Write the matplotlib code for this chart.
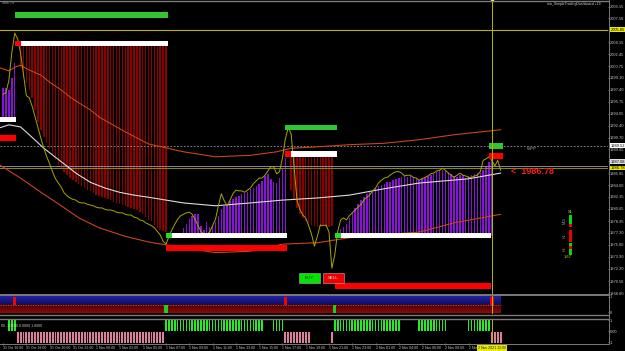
import matplotlib
matplotlib.use('Agg')
import matplotlib.pyplot as plt
import matplotlib.transforms as mtransforms
from matplotlib.patches import Rectangle
from matplotlib.lines import Line2D
from matplotlib.colors import LinearSegmentedColormap
import numpy as np

plt.rcParams['font.family'] = ['Liberation Sans', 'DejaVu Sans']

W, H = 625, 351

# ---------------- data ----------------
# close per 15 min bar (olive line), bar 0 = 31 Oct 16:00
close = [1996.8, 1997.0, 1998.8, 2002.7, 2005.4, 2004.6, 2002.6, 1999.6, 1996.6, 1996.3,
         1995.1, 1993.6, 1992.1, 1990.6, 1989.2, 1988.0, 1987.0, 1985.9, 1984.9, 1984.3,
         1983.7, 1982.9, 1982.5, 1982.2, 1982.0, 1981.9, 1981.6, 1981.5, 1981.5, 1981.3,
         1981.2, 1981.1, 1980.9, 1980.8, 1980.8, 1980.6, 1980.5, 1980.5, 1980.4, 1980.2,
         1980.1, 1980.1, 1979.9, 1979.8, 1979.8, 1979.5, 1979.4, 1979.1, 1979.0, 1978.7,
         1978.5, 1978.3, 1978.0, 1977.5, 1977.0, 1976.1, 1975.7, 1976.8, 1977.7, 1978.5,
         1979.2, 1979.7, 1979.9, 1980.1, 1980.2, 1979.9, 1979.2, 1978.3, 1977.5, 1977.1,
         1977.1, 1977.4, 1978.3, 1979.2, 1981.1, 1982.8, 1981.8, 1981.1, 1981.9, 1982.8,
         1983.3, 1983.2, 1983.2, 1983.0, 1983.3, 1983.6, 1984.2, 1984.6, 1985.0, 1985.0,
         1985.4, 1986.0, 1986.6, 1986.6, 1985.6, 1985.9, 1987.8, 1990.5, 1992.1, 1991.2,
         1986.7, 1981.9, 1980.6, 1979.8, 1979.4, 1978.3, 1977.1, 1975.4, 1976.8, 1978.4,
         1978.3, 1978.4, 1977.4, 1972.3, 1974.2, 1977.5, 1979.1, 1979.4, 1979.1, 1979.7,
         1980.1, 1980.5, 1980.9, 1981.3, 1981.9, 1982.3, 1982.6, 1983.2, 1983.6, 1984.3,
         1984.7, 1985.0, 1985.1, 1985.4, 1985.7, 1985.9, 1985.9, 1985.7, 1985.3, 1985.4,
         1985.4, 1985.1, 1985.0, 1984.7, 1984.9, 1985.1, 1985.3, 1985.6, 1985.7, 1986.0,
         1986.1, 1986.4, 1986.1, 1985.7, 1985.4, 1985.1, 1985.4, 1985.7, 1985.4, 1985.3,
         1985.1, 1985.1, 1985.3, 1985.4, 1985.9, 1987.5, 1987.7, 1988.0, 1987.5, 1986.7,
         1987.5, 1986.1]

# trading zones: level (white bar), stop/target box, side
zone_start = [-3, 4, 56, 97, 114]
zone_end = [4, 56, 97, 114, 167]
zone_level = [1993.2, 2003.9, 1976.9, 1988.4, 1976.9]
zone_box = [1990.6, 2008.0, 1975.2, 1992.1, 1969.8]
zone_side = ['buy', 'sell', 'buy', 'sell', 'buy']

# histogram tips inside each zone
hist_first = [0, 6, 62, 99, 115]
hist_z0 = [1997.7, 1997.7, 1997.4, 1999.1, 2001.2]
hist_z1 = [2000.5, 1999.4, 1998.4, 1997.4, 1996.3, 1994.6, 1992.9, 1991.8, 1990.8, 1989.9,
           1989.1, 1988.2, 1987.5, 1986.8, 1986.3, 1985.9, 1985.4, 1985.0, 1984.7, 1984.4,
           1984.2, 1983.9, 1983.6, 1983.3, 1983.2, 1982.9, 1982.6, 1982.5, 1982.3, 1982.2,
           1982.0, 1981.9, 1981.6, 1981.5, 1981.3, 1981.2, 1981.1, 1980.9, 1980.8, 1980.6,
           1980.5, 1980.2, 1979.9, 1979.5, 1979.1, 1979.0, 1978.4, 1978.0, 1977.7, 1977.5,
           1977.4]
hist_z2 = [1978.0, 1978.5, 1979.2, 1979.7, 1979.9, 1979.9, 1978.3, 1977.7, 1978.8, 1978.1,
           1978.4, 1978.8, 1979.7, 1980.6, 1981.1, 1981.3, 1981.8, 1982.0, 1982.3, 1982.5,
           1982.8, 1982.9, 1983.0, 1983.5, 1983.6, 1983.9, 1984.2, 1984.6, 1985.3, 1985.6,
           1984.9, 1984.4, 1984.3, 1985.0, 1986.4, 1987.8]
hist_z3 = [1983.3, 1981.9, 1980.8, 1979.9, 1979.4, 1979.0, 1978.7, 1978.4, 1978.3, 1978.1,
           1978.1, 1978.3, 1978.1, 1978.1, 1978.3]
hist_z4 = [1977.4, 1977.8, 1978.1, 1978.5, 1979.4, 1980.1, 1980.8, 1981.3, 1981.9, 1982.3,
           1982.8, 1983.0, 1983.3, 1983.6, 1983.9, 1984.0, 1984.2, 1984.4, 1984.4, 1984.7,
           1984.9, 1985.0, 1985.1, 1985.3, 1985.1, 1985.3, 1985.1, 1985.0, 1984.7, 1985.0,
           1985.1, 1985.3, 1985.4, 1985.6, 1985.9, 1986.1, 1986.1, 1986.0, 1985.9, 1985.6,
           1985.3, 1985.1, 1985.4, 1985.4, 1985.0, 1985.3, 1985.4, 1985.6, 1985.7, 1985.7,
           1986.1, 1986.7, 1987.3, 1987.5]
hist_tips = [hist_z0, hist_z1, hist_z2, hist_z3, hist_z4]

# moving average and envelope
ma_idx = [-1, 2, 6, 9, 14, 20, 25, 30, 35, 40, 45, 50, 62, 73, 85, 96, 108, 119, 131, 143, 160, 171]
ma_val = [1992.1, 1992.5, 1992.2, 1991.1, 1989.2, 1987.3, 1985.7, 1984.4, 1983.6, 1983.0, 1982.6,
          1982.3, 1981.5, 1981.1, 1981.5, 1981.9, 1982.2, 1982.6, 1983.5, 1984.3, 1984.9, 1985.7]
ub_idx = [-1, 2, 4, 6, 9, 13, 16, 20, 23, 26, 30, 33, 42, 50, 62, 73, 85, 94, 99, 108, 119, 131, 143, 155, 171]
ub_val = [2000.5, 2000.1, 2000.6, 2000.9, 2000.2, 1999.5, 1998.5, 1997.4, 1996.4, 1995.6, 1994.6,
          1993.6, 1991.5, 1989.8, 1988.7, 1988.0, 1988.2, 1988.7, 1989.2, 1989.4, 1989.7, 1989.9,
          1990.4, 1991.1, 1991.8]
lb_idx = [-1, 6, 13, 20, 26, 33, 42, 50, 62, 73, 85, 96, 108, 119, 131, 143, 155, 171]
lb_val = [1986.8, 1985.0, 1983.0, 1981.1, 1979.4, 1978.0, 1976.8, 1976.0, 1975.2, 1974.5, 1974.7,
          1975.7, 1975.9, 1976.6, 1977.0, 1977.4, 1978.7, 1979.9]

# current signal boxes
cur_idx = 167
cur_green = 1989.5
cur_red = 1988.1
current_bar = 168

# horizontal levels
level_top = 2005.85
level_wpp = 1989.5
level_ask = 1986.7
level_bid = 1986.4

# signal arrows panel
sig_idx = [4, 56, 97, 114, 168]
sig_type = ['sell', 'buy', 'sell', 'buy', 'sell']

# green / pink state panel
green_ranges = [(2, 4), (56, 89), (93, 96), (114, 136), (143, 152), (160, 167)]
pink_ranges = [(5, 55), (97, 105), (113, 113), (168, 171)]

# axes text
price_ticks = [1968.80, 1970.50, 1972.20, 1973.90, 1975.60, 1977.30, 1978.95, 1980.65, 1982.35,
               1984.00, 1985.65, 1987.35, 1989.05, 1990.70, 1992.40, 1994.05, 1995.75, 1997.40,
               1999.10, 2000.75, 2002.45, 2004.15, 2005.80, 2007.50, 2009.15]
hl_price = [2005.85, 1989.52, 1987.30, 1986.42]
hl_text = ['2005.85', '1989.52', '1987.08', '1986.78']
hl_color = ['#e8e800', '#ffffff', '#dcdcdc', '#e8e800']
time_idx = list(range(0, 161, 8))
time_labels = ['31 Oct 16:00', '31 Oct 18:00', '31 Oct 20:00', '31 Oct 22:00', '1 Nov 00:00',
               '1 Nov 02:00', '1 Nov 05:00', '1 Nov 07:00', '1 Nov 09:00', '1 Nov 11:00',
               '1 Nov 13:00', '1 Nov 15:00', '1 Nov 17:00', '1 Nov 19:00', '1 Nov 21:00',
               '1 Nov 23:00', '2 Nov 01:00', '2 Nov 04:00', '2 Nov 06:00', '2 Nov 08:00',
               '2 Nov 10:00']

dash_names = ['M15', 'H1', 'H4']
dash_states = [[1, 1, 1, 0], [0, 0, 0, 0], [1, 0, 1, 1]]

# ---------------- figure ----------------
fig = plt.figure(figsize=(W / 100, H / 100), dpi=100, facecolor='black')


def fy(ypx):
    return 1 - ypx / H


XL = (-1.065, 207.9)
ax = fig.add_axes([0, fy(294), 608 / W, 294 / H])
ax2 = fig.add_axes([0, fy(314), 608 / W, 19 / H])
ax3 = fig.add_axes([0, fy(343), 608 / W, 24 / H])
for a in (ax, ax2, ax3):
    a.set_facecolor('black')
    for s in a.spines.values():
        s.set_visible(False)
    a.set_xlim(*XL)
    a.set_xticks([])
    a.yaxis.tick_right()
    a.tick_params(axis='y', length=1, width=0.4, pad=0.5, labelsize=2.9,
                  colors='#c4c4c4')

ax.set_ylim(1968.68, 2010.07)
ax.set_yticks(price_ticks)
ax.set_yticklabels([f'{v:.2f}' for v in price_ticks])

RED_BAR = '#8c0000'
PURPLE = '#8a12d6'
GREEN_BOX = '#33c433'

# histogram bars
for k, tips in enumerate(hist_tips):
    lvl = zone_level[k]
    xs = np.arange(hist_first[k], hist_first[k] + len(tips))
    t = np.array(tips)
    col = RED_BAR if zone_side[k] == 'sell' else PURPLE
    ax.bar(xs, t - lvl, bottom=lvl, width=0.5, color=col, linewidth=0, zorder=2)

# zones
for k in range(len(zone_start)):
    s, e, lvl, bx = zone_start[k], zone_end[k] + 0.6, zone_level[k], zone_box[k]
    ax.add_patch(Rectangle((s, lvl - 0.37), e - s, 0.74, fc='white', ec='none', zorder=6))
    sq = '#ff0000' if zone_side[k] == 'sell' else '#22dd22'
    ax.add_patch(Rectangle((s, lvl - 0.37), 2, 0.74, fc=sq, ec='none', zorder=7))
    bc = GREEN_BOX if zone_side[k] == 'sell' else '#ff0000'
    ax.add_patch(Rectangle((s, bx - 0.4), e - s, 0.8, fc=bc, ec='none', zorder=6))

ax.add_patch(Rectangle((cur_idx, cur_green - 0.45), 4.8, 0.9, fc=GREEN_BOX, ec='none', zorder=6))
ax.add_patch(Rectangle((cur_idx, cur_red - 0.42), 4.8, 0.84, fc='#ff0000', ec='none', zorder=6))

# levels
ax.axhline(level_top, color='#b4b400', lw=0.8, zorder=3)
ax.axhline(level_wpp, color='#9a9a9a', lw=0.6, ls=(0, (2, 2)), zorder=3)
ax.axhline(level_ask, color='#8a8a8a', lw=0.7, zorder=3)
ax.axhline(level_bid, color='#8c8c00', lw=0.7, zorder=3)

# lines
ax.plot(ub_idx, ub_val, color='#c8461a', lw=0.8, zorder=4)
ax.plot(lb_idx, lb_val, color='#c8461a', lw=0.8, zorder=4)
ax.plot(ma_idx, ma_val, color='#dcdcdc', lw=0.8, zorder=5)
ax.plot(range(len(close)), close, color='#a6a600', lw=0.7, zorder=5)

# vertical current bar line
for a in (ax, ax2, ax3):
    a.axvline(current_bar, color='#b8b800', lw=0.7, zorder=8)
ax.plot([current_bar], [2010.07], marker='s', ms=1.8, color='#ffff50', clip_on=False, zorder=9)

# texts in main panel
ax.text(174.5, 1985.9, '<  1986.78', color='#ff1a1a', fontsize=6.5, fontweight='bold',
        va='center', ha='left', zorder=9)
ax.text(180, 1989.1, 'WPP', color='#a8a8a8', fontsize=3.2, va='center', zorder=9)
ax.text(0.003, 0.997, '1986.78', transform=ax.transAxes, fontsize=2.6, color='#a0a0a0', va='top')
ax.text(0.988, 0.994, 'ma_SimpleTradingDashboard +19', transform=ax.transAxes, fontsize=2.5,
        color='#d0d0d0', va='top', ha='right')

# highlighted price labels
trans = mtransforms.blended_transform_factory(ax.transAxes, ax.transData)
for p, t, c in zip(hl_price, hl_text, hl_color):
    ax.text(1.004, p, t, transform=trans, fontsize=2.9, color='black', va='center', ha='left',
            bbox=dict(fc=c, ec='none', pad=0.35), clip_on=False, zorder=10)

# panel 2 : signal band
band_end = 171.1
blue_cm = LinearSegmentedColormap.from_list('b', ['#0d0d62', '#2424a8'])
red_cm = LinearSegmentedColormap.from_list('r', ['#8a0a0a', '#4a0000'])
g = np.linspace(0, 1, 32).reshape(-1, 1)
ax2.imshow(g, extent=(XL[0], band_end, -0.05, 1), aspect='auto', cmap=blue_cm, origin='lower', zorder=1)
ax2.imshow(g, extent=(XL[0], band_end, -0.9, -0.05), aspect='auto', cmap=red_cm, origin='lower', zorder=1)
ax2.plot([XL[0], band_end], [-0.05, -0.05], color='#6a6ab8', lw=0.6, ls=(0, (1.5, 1.5)), zorder=2)
for i, t in zip(sig_idx, sig_type):
    if t == 'sell':
        ax2.bar(i, 0.85, bottom=-0.05, width=1.1, color='#ff0000', linewidth=0, zorder=3)
    else:
        ax2.bar(i, -0.85, bottom=-0.05, width=1.1, color='#22cc22', linewidth=0, zorder=3)
ax2.set_xlim(*XL)
ax2.set_ylim(-1, 1)
ax2.set_yticks([0.8, -0.8])
ax2.set_yticklabels(['1', '0'])

# panel 3 : state bars
ax3.set_ylim(-1, 1)
for a0, b0 in green_ranges:
    xs = np.arange(a0, b0 + 1)
    ax3.bar(xs, 0.9, bottom=0.0, width=0.55, color='#22ee22', linewidth=0)
for a0, b0 in pink_ranges:
    xs = np.arange(a0, b0 + 1)
    ax3.bar(xs, -0.9, bottom=-0.08, width=0.65, color='#e0809f', linewidth=0)
ax3.set_yticks([0.9, -0.04, -0.92])
ax3.set_yticklabels(['1', '0.00', '-1'])
ax3.text(0.002, 0.72, '00 -1.0000 0.0000 1.0000', transform=ax3.transAxes, fontsize=2.5,
         color='#d0d0d0', va='center', zorder=5)
ax3.set_xticks(time_idx)
ax3.set_xticklabels(time_labels)
for lab in ax3.get_xticklabels():
    lab.set_horizontalalignment('left')
ax3.tick_params(axis='x', length=1.2, width=0.4, pad=0.7, labelsize=2.5, colors='#c4c4c4')
ax3.text(current_bar, -1.25, '2 Nov 2021 12:00', transform=ax3.transData, fontsize=2.5,
         color='#202020', ha='center', va='top', clip_on=False,
         bbox=dict(fc='#e8e800', ec='none', pad=0.4), zorder=10)

# separators and frame
for ypx, lw in [(0.5, 1.0), (294.5, 1.4), (314.5, 1.0), (319.0, 1.0), (343.5, 0.7)]:
    fig.add_artist(Line2D([0, 608 / W], [fy(ypx), fy(ypx)], color='#7a7a7a', lw=lw))
fig.add_artist(Line2D([608.5 / W, 608.5 / W], [fy(0), fy(344)], color='#7a7a7a', lw=0.7))

# BUY / SELL buttons
fig.add_artist(Rectangle((299 / W, fy(283)), 21 / W, 10 / H, fc='#00e600', ec='#b0b0b0', lw=0.4,
                         transform=fig.transFigure))
fig.add_artist(Rectangle((323 / W, fy(283)), 21 / W, 10 / H, fc='#ee0000', ec='#b0b0b0', lw=0.4,
                         transform=fig.transFigure))
fig.text(309.5 / W, fy(278), 'BUY', fontsize=3.2, color='#0a3a0a', ha='center', va='center')
fig.text(333.5 / W, fy(278), 'SELL', fontsize=3.2, color='#ffe0e0', ha='center', va='center')

# dashboard squares
group_top = [215, 230, 243]
for gname, gy, states in zip(dash_names, group_top, dash_states):
    for j, st in enumerate(states):
        col = '#00dd00' if st else '#ee0000'
        fig.add_artist(Rectangle((569 / W, fy(gy + j * 3.1 + 2.5)), 2.6 / W, 2.5 / H, fc=col,
                                 ec='none', transform=fig.transFigure))
    fig.text(565 / W, fy(gy + 6), gname, rotation=90, fontsize=2.6, color='#9a9a9a',
             ha='center', va='center')
fig.text(570.5 / W, fy(212), 'S1', fontsize=2.8, color='#e0e000', ha='center', va='center')
fig.text(568 / W, fy(257.5), '1.67', fontsize=2.8, color='#e0e000', ha='center', va='center')

fig.savefig('out.png', dpi=100, facecolor='black')
